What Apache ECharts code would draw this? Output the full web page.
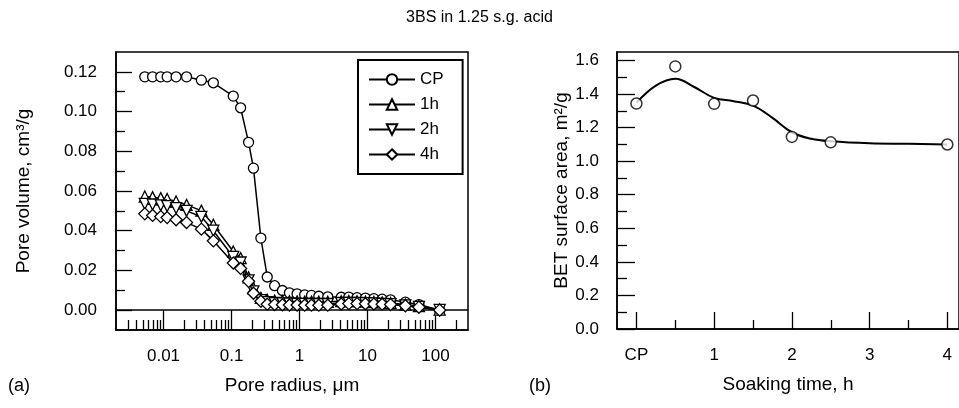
<!DOCTYPE html>
<html><head><meta charset="utf-8">
<script src="https://cdn.jsdelivr.net/npm/echarts@6/dist/echarts.min.js"></script>
<style>html,body{margin:0;padding:0;background:#fff}#c{width:959px;height:408px}</style>
</head><body><div id="c"></div>
<script>
// ---------- data ----------
const chartTitle = '3BS in 1.25 s.g. acid';
const seriesNames = ['CP', '1h', '2h', '4h'];

const poreRadius = [0.0053, 0.0069, 0.0091, 0.0113, 0.0153, 0.0218, 0.036, 0.054, 0.106, 0.136,
  0.178, 0.21, 0.27, 0.335, 0.43, 0.56, 0.71, 0.92, 1.19, 1.5,
  1.92, 2.6, 4.1, 5.3, 7.0, 9.3, 12.4, 16.4, 21.8, 36, 57, 115];
const volumeCP = [0.1175, 0.1175, 0.1175, 0.1175, 0.1175, 0.1175, 0.1158, 0.1145, 0.1078, 0.1019,
  0.0845, 0.0715, 0.0363, 0.0167, 0.0123, 0.0099, 0.0087, 0.0082, 0.0077, 0.0074,
  0.0070, 0.0067, 0.0065, 0.0066, 0.0063, 0.0061, 0.0058, 0.0055, 0.0052, 0.0040, 0.0028, 0.0000];
const volume1h = [0.0572, 0.0569, 0.0564, 0.0560, 0.0547, 0.0530, 0.0501, 0.0430, 0.0295, 0.0262,
  0.0165, 0.0110, 0.0062, 0.0052, 0.0048, 0.0046, 0.0045, 0.0044, 0.0043, 0.0043,
  0.0042, 0.0042, 0.0045, 0.0046, 0.0045, 0.0043, 0.0041, 0.0039, 0.0036, 0.0028, 0.0020, 0.0003];
const volume2h = [0.0535, 0.0532, 0.0528, 0.0524, 0.0514, 0.0500, 0.0470, 0.0400, 0.0268, 0.0240,
  0.0150, 0.0095, 0.0050, 0.0040, 0.0036, 0.0034, 0.0033, 0.0032, 0.0032, 0.0031,
  0.0031, 0.0031, 0.0036, 0.0037, 0.0036, 0.0035, 0.0034, 0.0032, 0.0030, 0.0024, 0.0016, 0.0001];
const volume4h = [0.0485, 0.0477, 0.0471, 0.0466, 0.0455, 0.0441, 0.0408, 0.0349, 0.0237, 0.0210,
  0.0145, 0.0085, 0.0045, 0.0030, 0.0028, 0.0027, 0.0026, 0.0026, 0.0025, 0.0025,
  0.0025, 0.0025, 0.0031, 0.0033, 0.0033, 0.0032, 0.0031, 0.0030, 0.0028, 0.0022, 0.0015, 0.0000];

const radiusMajorTicks = [0.01, 0.1, 1, 10, 100];
const radiusMinorTicks = [0.003, 0.004, 0.005, 0.006, 0.007, 0.008, 0.009,
  0.02, 0.03, 0.04, 0.05, 0.06, 0.07, 0.08, 0.09,
  0.2, 0.3, 0.4, 0.5, 0.6, 0.7, 0.8, 0.9,
  2, 3, 4, 5, 6, 7, 8, 9,
  20, 30, 40, 50, 60, 70, 80, 90, 200];
const volumeMajorTicks = [0, 0.02, 0.04, 0.06, 0.08, 0.10, 0.12];
const volumeMinorTicks = [0.01, 0.03, 0.05, 0.07, 0.09, 0.11];

const soakTime = [0, 0.5, 1, 1.5, 2, 2.5, 4];
const betArea = [1.343, 1.564, 1.341, 1.361, 1.144, 1.112, 1.099];
const fitTime = [0, 0.25, 0.5, 0.75, 1, 1.25, 1.5, 1.75, 2, 2.25, 2.5, 3, 3.5, 4];
const fitArea = [1.347, 1.450, 1.491, 1.440, 1.377, 1.357, 1.331, 1.258, 1.172, 1.133, 1.118, 1.106, 1.103, 1.099];

const timeMajorTicks = [0, 1, 2, 3, 4];
const timeTickLabels = ['CP', '1', '2', '3', '4'];
const timeMinorTicks = [0.5, 1.5, 2.5, 3.5];
const areaMajorTicks = [0, 0.2, 0.4, 0.6, 0.8, 1.0, 1.2, 1.4, 1.6];
const areaMinorTicks = [0.1, 0.3, 0.5, 0.7, 0.9, 1.1, 1.3, 1.5];

// ---------- chart ----------
const FONT = "'Liberation Sans', Arial, Helvetica, sans-serif";
const BLACK = '#000';
const pair = (xs, ys) => xs.map((x, i) => [x, ys[i]]);
const tickStyle = { color: BLACK, width: 1.3 };

function majorAxis(extra) {
  return Object.assign({
    splitLine: { show: false },
    axisLine: { show: true, onZero: false, lineStyle: { color: BLACK, width: 1.5 } },
    nameTextStyle: { fontSize: 19, color: BLACK, fontFamily: FONT },
    nameLocation: 'middle'
  }, extra);
}
function minorAxis(extra) {
  return Object.assign({
    splitLine: { show: false },
    axisLine: { show: false, onZero: false },
    axisLabel: { show: false }
  }, extra);
}

const symbols = ['circle', 'triangle', 'triangle', 'diamond'];
const rotations = [0, 0, 180, 0];
const sizes = [10, 11, 11, 12];
const volumes = [volumeCP, volume1h, volume2h, volume4h];

const leftSeries = seriesNames.map((name, i) => {
  const s = {
    name: name,
    type: 'line',
    xAxisIndex: 0,
    yAxisIndex: 0,
    data: pair(poreRadius, volumes[i]),
    symbol: symbols[i],
    symbolRotate: rotations[i],
    symbolSize: sizes[i],
    showSymbol: true,
    showAllSymbol: true,
    lineStyle: { color: BLACK, width: 1.5 },
    itemStyle: { color: '#fff', borderColor: BLACK, borderWidth: 1.3 },
    emphasis: { disabled: true },
    z: 3 + i
  };
  if (i === 0) {
    s.markLine = {
      silent: true,
      symbol: ['none', 'none'],
      label: { show: false },
      lineStyle: { color: BLACK, type: 'solid', width: 1.5 },
      data: [{ yAxis: 0 }]
    };
  }
  return s;
});

const option = {
  animation: false,
  backgroundColor: '#fff',
  textStyle: { fontFamily: FONT, color: BLACK },
  title: [
    { text: chartTitle, left: 'center', top: 10, padding: 0,
      textStyle: { fontSize: 16, fontWeight: 'normal', color: BLACK, fontFamily: FONT } },
    { text: '(a)', left: 8, top: 377, padding: 0,
      textStyle: { fontSize: 18, fontWeight: 'normal', color: BLACK, fontFamily: FONT } },
    { text: '(b)', left: 529, top: 377, padding: 0,
      textStyle: { fontSize: 18, fontWeight: 'normal', color: BLACK, fontFamily: FONT } }
  ],
  legend: {
    data: seriesNames,
    orient: 'vertical',
    left: 358, top: 60,
    itemWidth: 46, itemHeight: 13, itemGap: 8,
    padding: [11, 19, 11, 10],
    borderColor: BLACK, borderWidth: 2,
    backgroundColor: '#fff',
    selectedMode: false,
    textStyle: { fontSize: 17, color: BLACK, lineHeight: 17, fontFamily: FONT }
  },
  grid: [
    { left: 116, top: 52, width: 352, height: 278, show: true, borderColor: BLACK, borderWidth: 1.5, backgroundColor: 'transparent' },
    { left: 617, top: 52, width: 343, height: 277, show: true, borderColor: BLACK, borderWidth: 1.5, backgroundColor: 'transparent' }
  ],
  xAxis: [
    majorAxis({
      type: 'log', logBase: 10, gridIndex: 0, min: 0.002, max: 300, position: 'bottom',
      axisTick: { show: true, inside: true, length: 20, customValues: radiusMajorTicks, lineStyle: tickStyle },
      axisLabel: { show: true, customValues: radiusMajorTicks, margin: 18, fontSize: 17, color: BLACK,
        formatter: v => String(+(+v).toPrecision(3)) },
      name: 'Pore radius, μm', nameGap: 46
    }),
    minorAxis({
      type: 'log', logBase: 10, gridIndex: 0, min: 0.002, max: 300, position: 'bottom',
      axisTick: { show: true, inside: true, length: 10, customValues: radiusMinorTicks, lineStyle: tickStyle }
    }),
    majorAxis({
      type: 'value', gridIndex: 1, min: -0.25, max: 4.15, position: 'bottom',
      axisTick: { show: true, inside: true, length: 17, customValues: timeMajorTicks, lineStyle: tickStyle },
      axisLabel: { show: true, customValues: timeMajorTicks, margin: 18, fontSize: 17, color: BLACK,
        formatter: v => timeTickLabels[timeMajorTicks.indexOf(Math.round(v))] },
      name: 'Soaking time, h', nameGap: 46
    }),
    minorAxis({
      type: 'value', gridIndex: 1, min: -0.25, max: 4.15, position: 'bottom',
      axisTick: { show: true, inside: true, length: 9, customValues: timeMinorTicks, lineStyle: tickStyle }
    })
  ],
  yAxis: [
    majorAxis({
      type: 'value', gridIndex: 0, min: -0.01, max: 0.13, position: 'left',
      axisTick: { show: true, inside: true, length: 16, customValues: volumeMajorTicks, lineStyle: tickStyle },
      axisLabel: { show: true, customValues: volumeMajorTicks, margin: 19, fontSize: 17, color: BLACK,
        formatter: v => (+v).toFixed(2) },
      name: 'Pore volume, cm³/g', nameGap: 83
    }),
    minorAxis({
      type: 'value', gridIndex: 0, min: -0.01, max: 0.13, position: 'left',
      axisTick: { show: true, inside: true, length: 9, customValues: volumeMinorTicks, lineStyle: tickStyle }
    }),
    majorAxis({
      type: 'value', gridIndex: 1, min: 0, max: 1.65, position: 'left',
      axisTick: { show: true, inside: true, length: 18, customValues: areaMajorTicks, lineStyle: tickStyle },
      axisLabel: { show: true, customValues: areaMajorTicks, margin: 18, fontSize: 17, color: BLACK,
        formatter: v => (+v).toFixed(1) },
      name: 'BET surface area, m²/g', nameGap: 45
    }),
    minorAxis({
      type: 'value', gridIndex: 1, min: 0, max: 1.65, position: 'left',
      axisTick: { show: true, inside: true, length: 10, customValues: areaMinorTicks, lineStyle: tickStyle }
    })
  ],
  series: leftSeries.concat([
    {
      name: 'fit',
      type: 'line',
      xAxisIndex: 2, yAxisIndex: 2,
      data: pair(fitTime, fitArea),
      smooth: 0.4,
      symbol: 'none',
      lineStyle: { color: BLACK, width: 2 },
      emphasis: { disabled: true },
      z: 3
    },
    {
      name: 'BET',
      type: 'scatter',
      xAxisIndex: 2, yAxisIndex: 2,
      data: pair(soakTime, betArea),
      symbol: 'circle',
      symbolSize: 11,
      itemStyle: { color: '#fff', borderColor: BLACK, borderWidth: 1.5 },
      emphasis: { disabled: true },
      z: 5
    }
  ])
};

const chart = echarts.init(document.getElementById('c'), null, { renderer: 'canvas' });
chart.setOption(option);
</script>
</body></html>
